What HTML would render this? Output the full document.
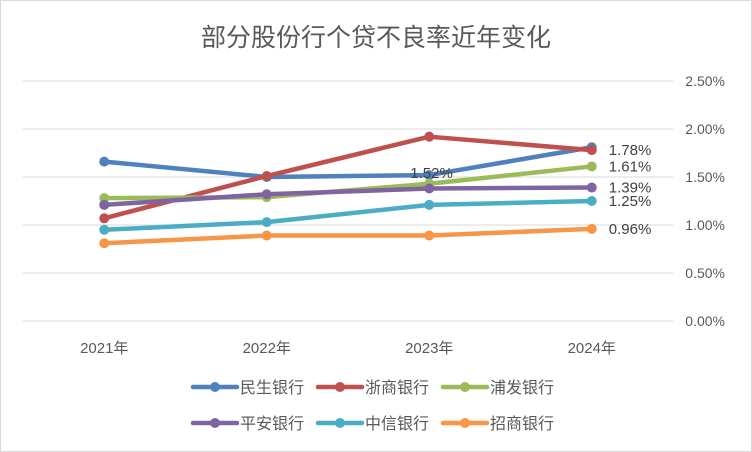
<!DOCTYPE html>
<html><head><meta charset="utf-8"><style>
body{margin:0;background:#fff}
svg{display:block;font-family:"Liberation Sans","Noto Sans CJK SC",sans-serif}
</style></head><body>
<svg id="c" width="752" height="452">
<rect x="0.5" y="0.5" width="751" height="451" fill="#fff" stroke="#d9d9d9"/>
<text x="376" y="46" font-size="25" fill="#595959" text-anchor="middle">部分股份行个贷不良率近年变化</text>
<g id="grid"></g><g id="series"></g><g id="legend"></g>
</svg>
<script>
const categories=["2021年","2022年","2023年","2024年"];
const yTicks=[0,0.5,1.0,1.5,2.0,2.5];
const names=["民生银行","浙商银行","浦发银行","平安银行","中信银行","招商银行"];
const colors=["#4f81bd","#c0504d","#9bbb59","#8064a2","#4bacc6","#f79646"];
const minsheng=[1.66,1.50,1.52,1.81];
const zheshang=[1.07,1.51,1.92,1.78];
const pufa=[1.28,1.29,1.43,1.61];
const pingan=[1.21,1.32,1.38,1.39];
const zhongxin=[0.95,1.03,1.21,1.25];
const zhaoshang=[0.81,0.89,0.89,0.96];
const series=[minsheng,zheshang,pufa,pingan,zhongxin,zhaoshang];
const labels=[null,"1.78%","1.61%","1.39%","1.25%","0.96%"];
const ns="http://www.w3.org/2000/svg";
function mk(t,a,p){const e=document.createElementNS(ns,t);for(const k in a)e.setAttribute(k,a[k]);p.appendChild(e);return e;}
const x0=23,x1=673,y0=321,yPerUnit=96;
const xs=i=>x0+(x1-x0)/categories.length*(i+0.5);
const ys=v=>y0-v*yPerUnit;
const g=document.getElementById('grid');
yTicks.forEach(t=>{
 const l=mk('line',{x1:x0,x2:x1,y1:ys(t),y2:ys(t),stroke:'#d9d9d9','stroke-width':1},g);
 
 
 const tx=mk('text',{x:725,y:ys(t)+5,'font-size':14,fill:'#595959','text-anchor':'end'},g);
 tx.textContent=t.toFixed(2)+'%';
 
 
});
categories.forEach((c,i)=>{
 const tx=mk('text',{x:xs(i),y:353,'font-size':15,fill:'#595959','text-anchor':'middle'},g);
 tx.textContent=c;
 
 
});
const sg=document.getElementById('series');
series.forEach((d,s)=>{
 const p=mk('polyline',{points:d.map((v,i)=>xs(i)+','+ys(v)).join(' '),fill:'none',stroke:colors[s],'stroke-width':4.5,'stroke-linejoin':'round'},sg);
 
 
 d.forEach((v,i)=>{
  const c=mk('circle',{cx:xs(i),cy:ys(v),r:5,fill:colors[s]},sg);
  
  
 });
});
// labels
series.forEach((d,s)=>{
 if(labels[s]){
  const t=mk('text',{x:xs(3)+17,y:ys(d[3])+5,'font-size':15,fill:'#404040'},sg);
  t.textContent=labels[s];
  
  
 }
});
const t23=mk('text',{x:xs(2)-19,y:ys(minsheng[2])+3,'font-size':15,fill:'#404040'},sg);
t23.textContent=minsheng[2].toFixed(2)+'%';


const lg=document.getElementById('legend');
names.forEach((n,s)=>{
 const col=s%3,row=Math.floor(s/3);
 const lx=193+col*125,ly=387+row*36;
 const l=mk('line',{x1:lx,x2:lx+44,y1:ly,y2:ly,stroke:colors[s],'stroke-width':4.5,'stroke-linecap':'round'},lg);
 
 
 mk('circle',{cx:lx+22,cy:ly,r:5,fill:colors[s]},lg);
 const t=mk('text',{x:lx+47,y:ly+6,'font-size':16,fill:'#595959'},lg);
 t.textContent=n;
 
 
});
</script>
</body></html>
